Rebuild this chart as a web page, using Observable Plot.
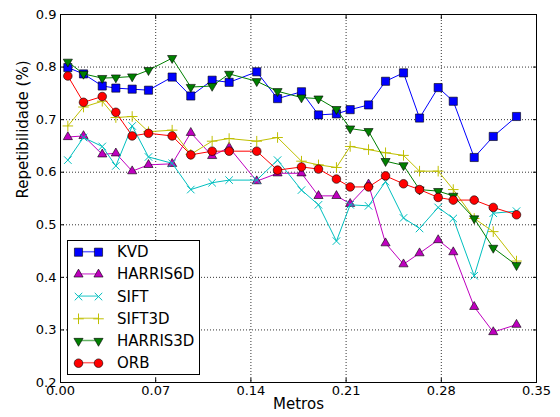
<!DOCTYPE html>
<html>
<head>
<meta charset="utf-8">
<script src="https://cdn.jsdelivr.net/npm/d3@7"></script>
<script src="https://cdn.jsdelivr.net/npm/@observablehq/plot@0.6"></script>
<style>
  body { margin: 0; background: #fff; }
  #chart { width: 560px; height: 417px; }
</style>
</head>
<body>
<div id="chart"></div>
<script>
// Distance (metres) at which repeatability was measured
const metros = [0.0054, 0.0169, 0.0307, 0.0407, 0.0527, 0.0647, 0.0821, 0.0958, 0.1115, 0.1240,
  0.1443, 0.1596, 0.1772, 0.1897, 0.2029, 0.2130, 0.2265, 0.2390, 0.2522, 0.2640,
  0.2777, 0.2888, 0.3042, 0.3182, 0.3353];

// Repeatability per detector
const kvd = [0.799, 0.787, 0.764, 0.760, 0.758, 0.756, 0.781, 0.745, 0.775, 0.771,
  0.791, 0.740, 0.753, 0.709, 0.711, 0.719, 0.728, 0.773, 0.789, 0.703,
  0.761, 0.735, 0.628, 0.668, 0.706];
const harris6d = [0.667, 0.669, 0.634, 0.636, 0.602, 0.614, 0.616, 0.675, 0.631, 0.647,
  0.583, 0.598, 0.598, 0.555, 0.555, 0.540, 0.577, 0.465, 0.425, 0.446,
  0.471, 0.448, 0.344, 0.296, 0.310];
const sift = [0.623, 0.666, 0.649, 0.612, 0.688, 0.629, 0.617, 0.567, 0.580, 0.585,
  0.585, 0.623, 0.566, 0.538, 0.469, 0.538, 0.536, 0.582, 0.513, 0.493,
  0.533, 0.512, 0.403, 0.522, 0.526];
const sift3d = [0.688, 0.724, 0.735, 0.704, 0.706, 0.677, 0.680, 0.634, 0.659, 0.664,
  0.659, 0.666, 0.621, 0.614, 0.609, 0.649, 0.643, 0.637, 0.632, 0.602,
  0.602, 0.567, 0.512, 0.487, 0.431];
const harris3d = [0.810, 0.787, 0.779, 0.780, 0.782, 0.794, 0.817, 0.762, 0.764, 0.787,
  0.773, 0.754, 0.742, 0.740, 0.720, 0.683, 0.678, 0.621, 0.613, 0.567,
  0.564, 0.555, 0.512, 0.456, 0.423];
const orb = [0.783, 0.733, 0.744, 0.714, 0.669, 0.674, 0.669, 0.633, 0.640, 0.640,
  0.640, 0.604, 0.610, 0.606, 0.587, 0.572, 0.572, 0.593, 0.578, 0.567,
  0.552, 0.547, 0.547, 0.533, 0.519];

const seriesNames = ["KVD", "HARRIS6D", "SIFT", "SIFT3D", "HARRIS3D", "ORB"];
const seriesValues = [kvd, harris6d, sift, sift3d, harris3d, orb];

const xTicks = [0, 0.07, 0.14, 0.21, 0.28, 0.35];
const yTicks = [0.2, 0.3, 0.4, 0.5, 0.6, 0.7, 0.8, 0.9];

// Line colour and marker for each detector
const styles = {
  KVD:      {color: "#0000ff", symbol: "square",   r: 4.6, rotate: 0,   filled: true},
  HARRIS6D: {color: "#bf00bf", symbol: "triangle", r: 3.4, rotate: 0,   filled: true},
  SIFT:     {color: "#00bfbf", symbol: "times",    r: 3.5, rotate: 0,   filled: false},
  SIFT3D:   {color: "#bfbf00", symbol: "plus",     r: 3.5, rotate: 0,   filled: false},
  HARRIS3D: {color: "#008000", symbol: "triangle", r: 3.4, rotate: 180, filled: true},
  ORB:      {color: "#ff0000", symbol: "circle",   r: 4.3, rotate: 0,   filled: true}
};

const rows = seriesNames.map((name, k) =>
  seriesValues[k].map((v, i) => ({serie: name, metros: metros[i], rep: v})));

const seriesMarks = rows.flatMap((data, k) => {
  const s = styles[seriesNames[k]];
  const dotOpts = s.filled
    ? {x: "metros", y: "rep", symbol: s.symbol, r: s.r, rotate: s.rotate, fill: s.color, stroke: "black", strokeWidth: 0.6}
    : {x: "metros", y: "rep", symbol: s.symbol, r: s.r, stroke: s.color, strokeWidth: 1};
  return [
    Plot.line(data, {x: "metros", y: "rep", stroke: s.color, strokeWidth: 1}),
    Plot.dot(data, dotOpts)
  ];
});

const chart = Plot.plot({
  width: 560,
  height: 417,
  marginLeft: 60,
  marginRight: 24,
  marginTop: 14,
  marginBottom: 35,
  style: {fontFamily: "DejaVu Sans", fontSize: "13px", color: "black", background: "white"},
  x: {domain: [0, 0.35]},
  y: {domain: [0.2, 0.9]},
  marks: [
    Plot.gridX({ticks: xTicks, stroke: "black", strokeOpacity: 1, strokeWidth: 0.8, strokeDasharray: "1,2"}),
    Plot.gridY({ticks: yTicks, stroke: "black", strokeOpacity: 1, strokeWidth: 0.8, strokeDasharray: "1,2"}),
    ...seriesMarks,
    Plot.frame({stroke: "black", strokeWidth: 1}),
    Plot.axisX({ticks: xTicks, tickSize: -4, tickPadding: 7, tickFormat: d => d.toFixed(2), label: null}),
    Plot.axisX({anchor: "top", ticks: xTicks, tickSize: -4, tickFormat: () => "", label: null}),
    Plot.axisY({ticks: yTicks, tickSize: -4, tickPadding: 8, tickFormat: d => d.toFixed(1), label: null}),
    Plot.axisY({anchor: "right", ticks: yTicks, tickSize: -4, tickFormat: () => "", label: null}),
    Plot.text(["Metros"], {frameAnchor: "bottom", dy: 26, fontSize: 15, fill: "black"}),
    Plot.text(["Repetibilidade (%)"], {frameAnchor: "left", dx: -37, rotate: -90, fontSize: 15, fill: "black"})
  ]
});

document.getElementById("chart").appendChild(chart);

// Legend box inside the plot area, lower left
const legend = d3.select(chart).append("g")
  .attr("font-family", "DejaVu Sans")
  .attr("font-size", 15)
  .attr("text-anchor", "start");
legend.append("rect")
  .attr("x", 67.5).attr("y", 240.5)
  .attr("width", 132).attr("height", 134)
  .attr("fill", "white").attr("stroke", "black").attr("stroke-width", 1);

// Legend markers reuse Plot's dot mark so symbols match the chart exactly
seriesNames.forEach((name, i) => {
  const s = styles[name];
  const cy = 251.7 + i * 22.2;
  const row = legend.append("g").attr("transform", `translate(0,${cy})`);
  row.append("line")
    .attr("x1", 78).attr("x2", 98)
    .attr("stroke", s.color).attr("stroke-opacity", 0.6).attr("stroke-width", 1.5);
  const swatch = Plot.dot([0, 1], {
    x: d => d, y: () => 0, symbol: s.symbol, r: s.r, rotate: s.rotate,
    ...(s.filled ? {fill: s.color, stroke: "black", strokeWidth: 0.6} : {stroke: s.color, strokeWidth: 1})
  }).plot({
    width: 40, height: 20, margin: 0, marginLeft: 10, marginRight: 10,
    x: {domain: [0, 1], axis: null}, y: {domain: [-1, 1], axis: null}
  });
  const g = row.append("g").attr("transform", "translate(68,-10)");
  Array.from(swatch.childNodes).forEach(n => {
    if (n.tagName && n.tagName.toLowerCase() !== "style") g.node().appendChild(n);
  });
  row.append("text")
    .attr("x", 117).attr("y", 0).attr("dy", "0.36em")
    .attr("fill", "black")
    .text(name);
});
</script>
</body>
</html>
